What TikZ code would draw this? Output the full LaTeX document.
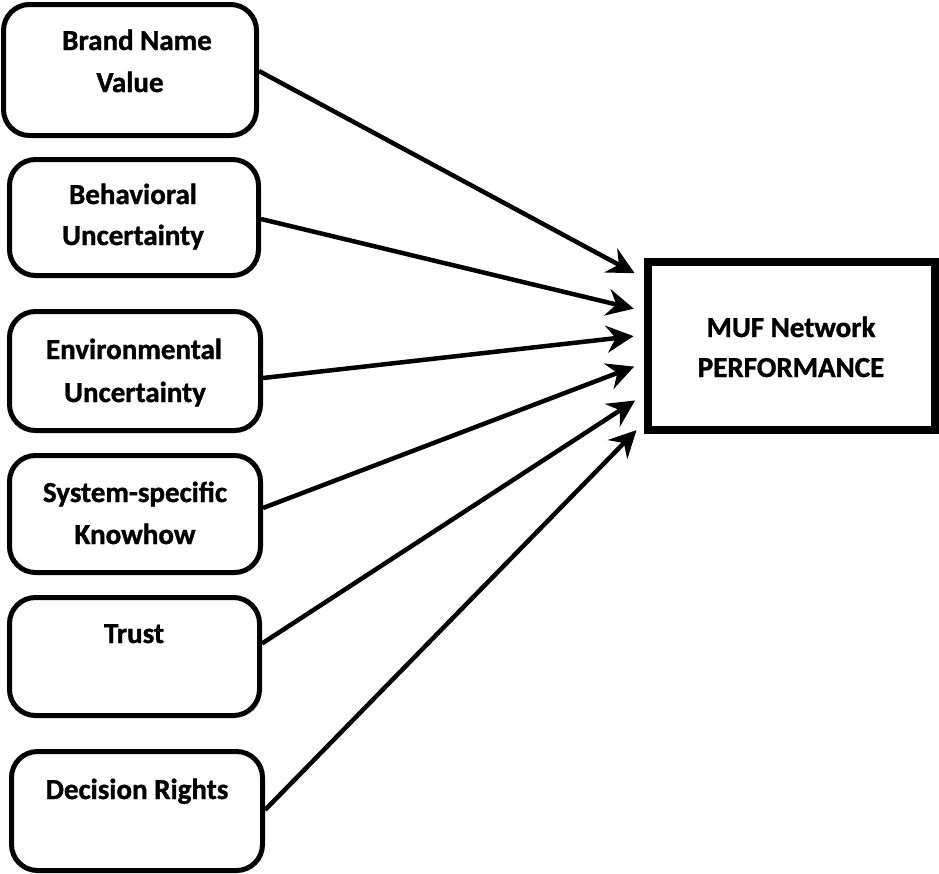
\documentclass[tikz,border=0pt]{standalone}
\usepackage{fontspec}
\setmainfont[BoldFeatures={FakeBold=1.2}]{Carlito}
\usetikzlibrary{arrows.meta}
\begin{document}
\begin{tikzpicture}[x=1pt,y=-1pt,
  factor/.style={draw=black, line width=5pt, rounded corners=26pt, rectangle, inner sep=0pt},
  target/.style={draw=black, line width=8pt, rectangle, inner sep=0pt},
  lbl/.style={anchor=base, inner sep=0pt, font=\fontsize{29}{41}\selectfont\bfseries},
  link/.style={line width=4.5pt, -{Stealth[length=27pt,width=27pt,inset=9pt]}, shorten >=10pt}]
\useasboundingbox (0,0) rectangle (939,873);

\node[factor, minimum width=253pt, minimum height=131pt] (b1) at (130,70) {};
\node[factor, minimum width=249pt, minimum height=116pt] (b2) at (134,217.5) {};
\node[factor, minimum width=251pt, minimum height=119pt] (b3) at (135,371) {};
\node[factor, minimum width=251pt, minimum height=117pt] (b4) at (135,514) {};
\node[factor, minimum width=250pt, minimum height=118pt] (b5) at (134.5,656.5) {};
\node[factor, minimum width=251pt, minimum height=119pt] (b6) at (137,811) {};
\node[target, minimum width=287.5pt, minimum height=168.5pt] (muf) at (791.25,345.75) {};

\node[lbl] (t1a) at (137,50) {Brand Name};
\node[lbl] (t1b) at (130,92) {Value};
\node[lbl] (t2a) at (133,204) {Behavioral};
\node[lbl] (t2b) at (133,245) {Uncertainty};
\node[lbl] (t3a) at (134,359) {Environmental};
\node[lbl] (t3b) at (135,402) {Uncertainty};
\node[lbl] (t4a) at (135,502) {System-specific};
\node[lbl] (t4b) at (135,544) {Knowhow};
\node[lbl] (t5a) at (134,643) {Trust};
\node[lbl] (t6a) at (137,799) {Decision Rights};
\node[lbl] (tma) at (791,337) {MUF Network};
\node[lbl] (tmb) at (791,377) {PERFORMANCE};

\draw[link] ([yshift=-1pt]b1.east) -- ([yshift=67.75pt]muf.west);
\draw[link] ([yshift=-1.5pt]b2.east) -- ([yshift=34.75pt]muf.west);
\draw[link] ([yshift=-7pt]b3.east) -- ([yshift=10.75pt]muf.west);
\draw[link] ([yshift=6pt]b4.east) -- ([yshift=-17.25pt]muf.west);
\draw[link] ([yshift=13pt]b5.east) -- ([yshift=-49.25pt]muf.west);
\draw[link] ([yshift=1pt]b6.east) -- ([yshift=-77.25pt]muf.west);
\end{tikzpicture}
\end{document}
